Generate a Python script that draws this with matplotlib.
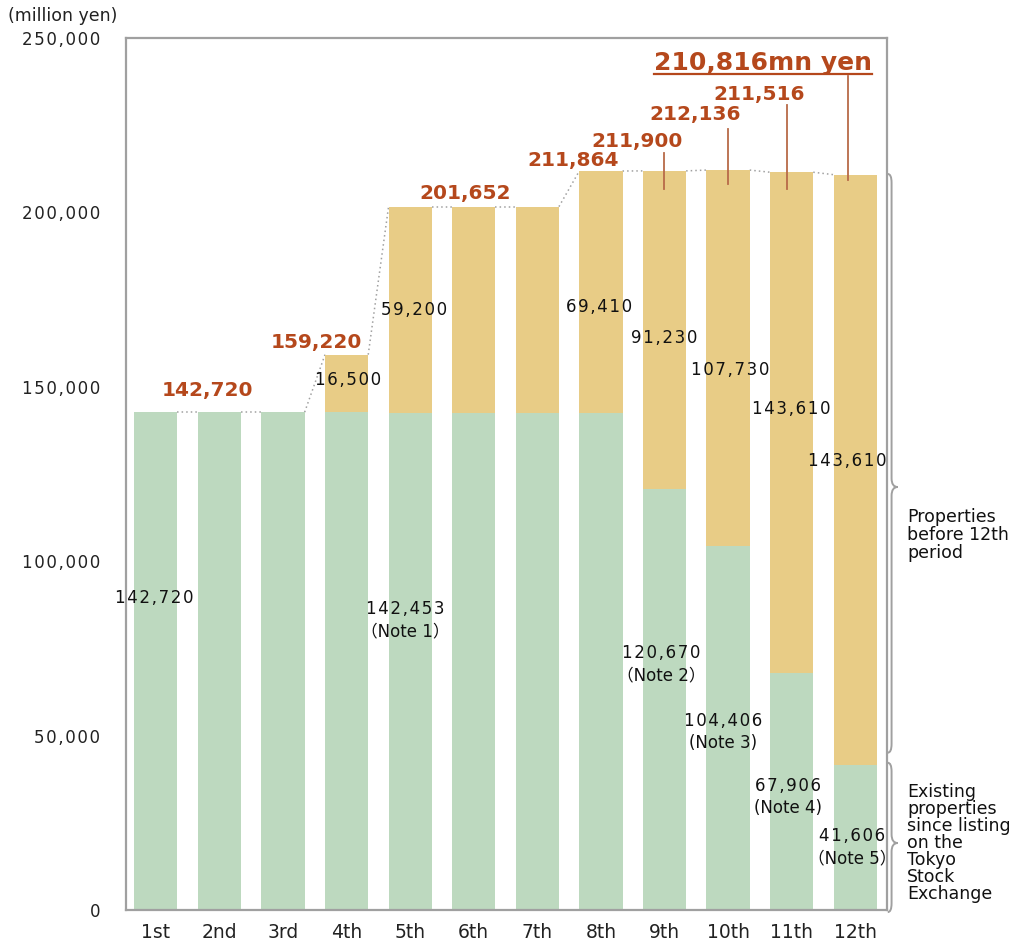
import matplotlib
matplotlib.use("Agg")
import matplotlib.pyplot as plt
import numpy as np
from matplotlib.path import Path
from matplotlib.patches import PathPatch
from matplotlib.transforms import blended_transform_factory

plt.rcParams['font.family'] = ['DejaVu Sans', 'Noto Sans CJK JP']

# ---- data ----
periods = ['1st', '2nd', '3rd', '4th', '5th', '6th', '7th', '8th', '9th', '10th', '11th', '12th']
existing = [142720, 142720, 142720, 142720, 142453, 142453, 142453, 142453,
            120670, 104406, 67906, 41606]
totals = [142720, 142720, 142720, 159220, 201652, 201652, 201652, 211864,
          211900, 212136, 211516, 210816]
existing_labels = ['142,720', None, None, None, '142,453\n（Note 1）', None, None, None,
                   '120,670\n（Note 2）', '104,406\n(Note 3)', '67,906\n(Note 4)', '41,606\n（Note 5）']
added_labels = [None, None, None, '16,500', '59,200', None, None, '69,410',
                '91,230', '107,730', '143,610', '143,610']
total_labels = ['142,720', None, None, '159,220', None, '201,652', None, '211,864',
                '211,900', '212,136', '211,516', '210,816mn yen']
yticks = [0, 50000, 100000, 150000, 200000, 250000]

added = [t - e for t, e in zip(totals, existing)]

GREEN = '#BDD9BF'
GOLD = '#E8CC86'
RUST = '#B5481C'
GRAY = '#A0A0A0'


def spaced(s):
    # widen the tracking of numeric labels
    return '\u200a'.join(s)


W, H, DPI = 1009, 944, 100
fig = plt.figure(figsize=(W / DPI, H / DPI), dpi=DPI)
ax = fig.add_axes([126 / W, 1 - 910 / H, (887 - 126) / W, (910 - 38) / H])

x = np.arange(len(periods))
bw = 0.68
ax.bar(x, existing, width=bw, color=GREEN, zorder=2)
ax.bar(x, added, width=bw, bottom=existing, color=GOLD, zorder=2)

ax.set_xlim(-0.47, 11.5)
ax.set_ylim(0, 250000)
px = 250000 / 872  # data units per pixel on the value axis

# dotted connectors between bar tops
for i in range(len(x) - 1):
    ax.plot([x[i] + bw / 2, x[i + 1] - bw / 2], [totals[i], totals[i + 1]],
            ls=(0, (1, 2)), color=GRAY, lw=1.1, zorder=1)

# axes styling
for s in ['top', 'left', 'bottom', 'right']:
    ax.spines[s].set_color(GRAY)
    ax.spines[s].set_linewidth(1.6)
ax.set_yticks(yticks)
ax.set_yticklabels([spaced(f'{v:,}') for v in yticks], fontsize=12, color='#222222')
ax.tick_params(axis='y', length=0, pad=18.5)
ax.set_xticks(x)
ax.set_xticklabels(periods, fontsize=13.5, color='#222222')
ax.tick_params(axis='x', length=0, pad=9.5)
fig.text(8 / W, 1 - 16 / H, '(million yen)', fontsize=12.5, va='center', ha='left', color='#222222')

# segment value labels
ex_pos = [(-0.02, 89450), None, None, None, (-0.08, 83140), None, None, None,
          (-0.05, 70530), (-0.08, 51030), (-0.06, 32400), (-0.05, 18060)]
ad_pos = [None, None, None, (0.03, 151950), (0.06, 172020), None, None, (-0.03, 172880),
          (0.0, 163990), (0.03, 154820), (0.0, 143640), (-0.13, 128730)]
for i in range(len(x)):
    for lab, pos in ((existing_labels[i], ex_pos[i]), (added_labels[i], ad_pos[i])):
        if lab is None:
            continue
        lines = lab.split('\n')
        txt = '\n'.join([spaced(lines[0])] + lines[1:])
        ax.text(x[i] + pos[0], pos[1], txt, ha='center', va='center', fontsize=12,
                color='#111111', linespacing=1.3, zorder=4)

# total labels (pixel offsets from bar tops)
tot_off = [(52, 22), None, None, (-30, 12), None, (-9, 13), None, (-28, 11),
           (-27, 29), (-33, 56), (-33, 78), (-92, 112)]
for i in range(len(x)):
    if total_labels[i] is None:
        continue
    big = i == len(x) - 1
    ax.annotate(total_labels[i], xy=(x[i], totals[i]), xytext=tot_off[i],
                textcoords='offset pixels', ha='center', va='center',
                fontsize=18 if big else 14.5, fontweight='bold', color=RUST,
                annotation_clip=False, zorder=5)

# underline for the latest total
ax.plot([x[11] - 92 / 63.5 - 1.71, x[11] - 92 / 63.5 + 1.71],
        [totals[11] + 101 * px, totals[11] + 101 * px],
        color=RUST, lw=1.6, clip_on=False, zorder=5)

# leader lines from labels into bars
leaders = {8: (18, -18), 9: (41, -14), 10: (67, -17), 11: (99, -5)}
lead_dx = {8: 0.0, 9: -0.0, 10: -0.08, 11: -0.11}
for i, (up, dn) in leaders.items():
    ax.plot([x[i] + lead_dx[i]] * 2, [totals[i] + up * px, totals[i] + dn * px],
            color='#B86A48', lw=1.3, zorder=5, clip_on=False)

# braces on the right
tr = blended_transform_factory(ax.transAxes, ax.transData)


def brace(y0, y1, ytip, x0=1.001, dx=0.005, tip=0.013, r=2500):
    verts = [(x0, y0), (x0 + dx, y0), (x0 + dx, y0 - r),
             (x0 + dx, ytip + r),
             (x0 + dx, ytip), (x0 + tip, ytip),
             (x0 + dx, ytip), (x0 + dx, ytip - r),
             (x0 + dx, y1 + r),
             (x0 + dx, y1), (x0, y1)]
    codes = [Path.MOVETO, Path.CURVE3, Path.CURVE3, Path.LINETO,
             Path.CURVE3, Path.CURVE3, Path.CURVE3, Path.CURVE3,
             Path.LINETO, Path.CURVE3, Path.CURVE3]
    ax.add_patch(PathPatch(Path(verts, codes), transform=tr, fill=False,
                           edgecolor=GRAY, lw=1.4, clip_on=False))


brace(totals[11] + 200, existing[11] + 3500, 121270)
brace(existing[11] + 600, -600, 19200)

fig.text(907 / W, 1 - 535 / H, 'Properties\nbefore 12th\nperiod', fontsize=12.5,
         va='center', ha='left', color='#111111', linespacing=1.0)
fig.text(907 / W, 1 - 843 / H, 'Existing\nproperties\nsince listing\non the\nTokyo\nStock\nExchange',
         fontsize=12.5, va='center', ha='left', color='#111111', linespacing=0.93)

fig.savefig('out.png', dpi=DPI)
